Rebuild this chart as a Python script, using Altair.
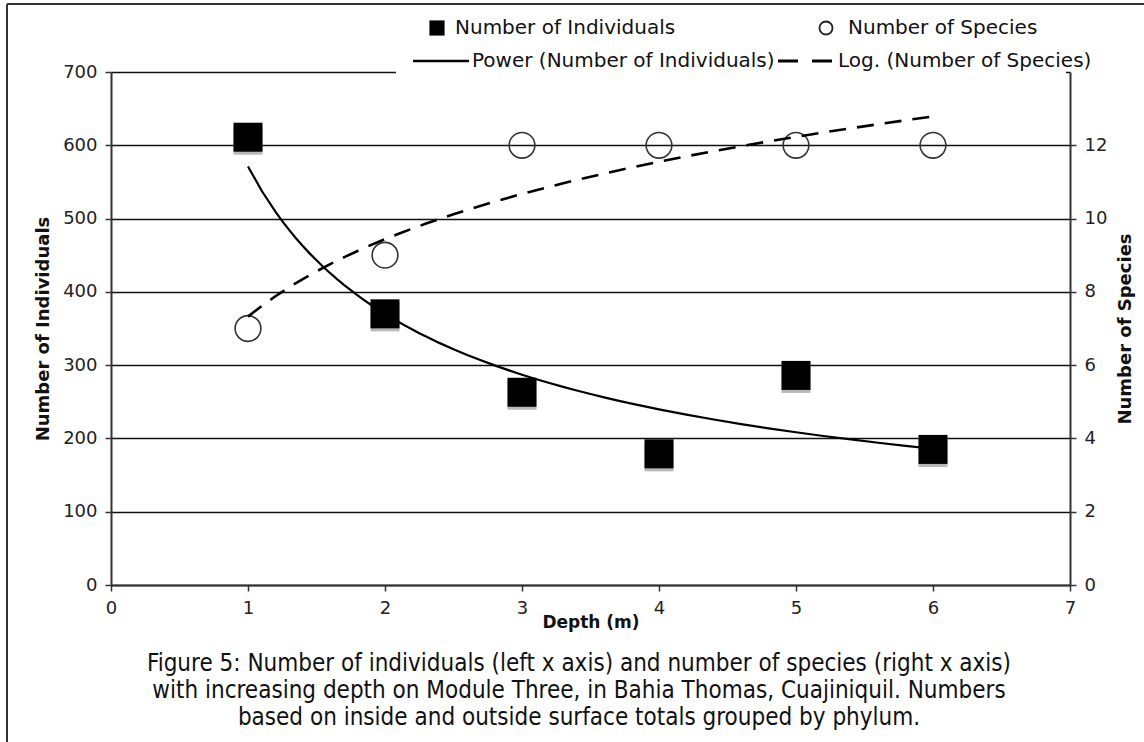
import altair as alt
import pandas as pd

# ---- data ----
depth = [1, 2, 3, 4, 5, 6]
individuals = [611, 370, 263, 179, 286, 185]
species = [7, 9, 12, 12, 12, 12]

left_ticks = [0, 100, 200, 300, 400, 500, 600, 700]
right_ticks = [0, 2, 4, 6, 8, 10, 12]
x_ticks = [0, 1, 2, 3, 4, 5, 6, 7]

caption_lines = [
    "Figure 5:  Number of individuals (left x axis) and number of species (right x axis)",
    "with increasing depth on Module Three, in Bahia Thomas, Cuajiniquil.  Numbers",
    "based on inside and outside surface totals grouped by phylum.",
]
legend_labels = [
    "Number of Individuals",
    "Number of Species",
    "Power (Number of Individuals)",
    "Log. (Number of Species)",
]

df = pd.DataFrame({"Depth": depth, "Individuals": individuals, "Species": species})

W, H = 959, 513
FONT = "DejaVu Sans"
AX = "#333333"

x_axis = alt.Axis(
    values=x_ticks, title="Depth (m)", grid=False, format="d",
    labelFlush=False, labelOverlap=False,
    domainColor=AX, domainWidth=2, tickColor=AX, tickWidth=1.5, tickSize=6,
    labelFont=FONT, labelFontSize=18, labelColor="#222", labelPadding=8,
    titleFont=FONT, titleFontSize=17, titleFontWeight="bold", titleColor="#111",
    titlePadding=-3,
)
yl_axis = alt.Axis(
    orient="left", values=left_ticks, title="Number of Individuals",
    grid=True, gridColor="#111", gridWidth=1.5, labelFlush=False,
    domainColor=AX, domainWidth=2, tickColor=AX, tickWidth=1.5, tickSize=6,
    labelFont=FONT, labelFontSize=18, labelColor="#222", labelPadding=8,
    titleFont=FONT, titleFontSize=18, titleFontWeight="bold", titleColor="#111",
    titlePadding=10,
)
yr_axis = alt.Axis(
    orient="right", values=right_ticks, title="Number of Species", grid=False,
    labelFlush=False, titleAngle=270,
    domainColor=AX, domainWidth=2, tickColor=AX, tickWidth=1.5, tickSize=6,
    labelFont=FONT, labelFontSize=18, labelColor="#222", labelPadding=8,
    titleFont=FONT, titleFontSize=18, titleFontWeight="bold", titleColor="#111",
    titlePadding=28,
)

x_scale = alt.Scale(domain=[0, 7], nice=False)
y_left_scale = alt.Scale(domain=[0, 700], nice=False)
y_right_scale = alt.Scale(domain=[0, 14], nice=False)

x_enc = alt.X("Depth:Q", scale=x_scale, axis=x_axis)
yl_enc = alt.Y("Individuals:Q", scale=y_left_scale, axis=yl_axis)
yr_enc = alt.Y("Species:Q", scale=y_right_scale, axis=yr_axis)

base = alt.Chart(df)

shadow = base.mark_square(size=841, color="#b8b8b8", opacity=1).encode(
    x=x_enc, y=yl_enc, yOffset=alt.value(3),
)
squares = base.mark_square(size=841, color="black", opacity=1).encode(
    x=x_enc, y=yl_enc,
)
power = base.transform_regression(
    "Depth", "Individuals", method="pow", extent=[1, 6]
).mark_line(color="black", strokeWidth=2.2).encode(x=x_enc, y=yl_enc)
left = alt.layer(shadow, squares, power)

circles = base.mark_point(
    shape="circle", size=660, filled=False, color="#333", strokeWidth=1.6, opacity=1
).encode(x=x_enc, y=yr_enc)
logfit = base.transform_regression(
    "Depth", "Species", method="log", extent=[1, 6]
).mark_line(color="black", strokeWidth=2.6, strokeDash=[17, 11]).encode(x=x_enc, y=yr_enc)
right = alt.layer(circles, logfit)

# ---- decorations (pixel positions relative to plot origin) ----
one = pd.DataFrame({"k": [0]})
frame_top = alt.Chart(one).mark_rule(color="#333", strokeWidth=2).encode(
    x=alt.value(-104), x2=alt.value(1040), y=alt.value(-68)
)
frame_left = alt.Chart(one).mark_rule(color="#333", strokeWidth=2).encode(
    x=alt.value(-104), y=alt.value(-68), y2=alt.value(680)
)
legend_bg = alt.Chart(one).mark_rect(color="white", opacity=1).encode(
    x=alt.value(285), x2=alt.value(955), y=alt.value(-60), y2=alt.value(3)
)
leg_sq = alt.Chart(one).mark_square(size=230, color="black", opacity=1).encode(
    x=alt.value(326), y=alt.value(-44)
)
leg_ci = alt.Chart(one).mark_point(
    shape="circle", size=170, filled=False, color="#222", strokeWidth=1.8, opacity=1
).encode(x=alt.value(715), y=alt.value(-44))
leg_line = alt.Chart(one).mark_rule(color="black", strokeWidth=2.4).encode(
    x=alt.value(302), x2=alt.value(358), y=alt.value(-11)
)
leg_dash = alt.Chart(one).mark_rule(color="black", strokeWidth=2.8, strokeDash=[20, 14]).encode(
    x=alt.value(667), x2=alt.value(722), y=alt.value(-11)
)
leg_df = pd.DataFrame({
    "t": legend_labels,
    "px": [344, 737, 361, 727],
    "py": [-44, -44, -11, -11],
})
leg_text = alt.Chart(leg_df).mark_text(
    align="left", baseline="middle", font=FONT, fontSize=20, color="#111"
).encode(text="t:N", x=alt.X("px:Q", scale=None), y=alt.Y("py:Q", scale=None))

cap_df = pd.DataFrame({"t": caption_lines, "py": [592, 619, 646]})
caption = alt.Chart(cap_df).mark_text(
    align="center", baseline="middle",
    font="Liberation Sans Narrow, DejaVu Sans Condensed, Liberation Sans, sans-serif",
    fontSize=24, color="#111",
).encode(text="t:N", x=alt.value(468), y=alt.Y("py:Q", scale=None))

chart = alt.layer(
    frame_top, frame_left,
    left, right,
    legend_bg, leg_sq, leg_ci, leg_line, leg_dash, leg_text, caption,
).resolve_scale(y="independent").properties(
    width=W, height=H,
    autosize=alt.AutoSizeParams(type="none"),
    padding={"left": 111, "top": 72, "right": 74, "bottom": 157},
    background="white",
).configure_view(stroke=None)

chart.save("out.html", embed_options={"renderer": "svg", "actions": False})
